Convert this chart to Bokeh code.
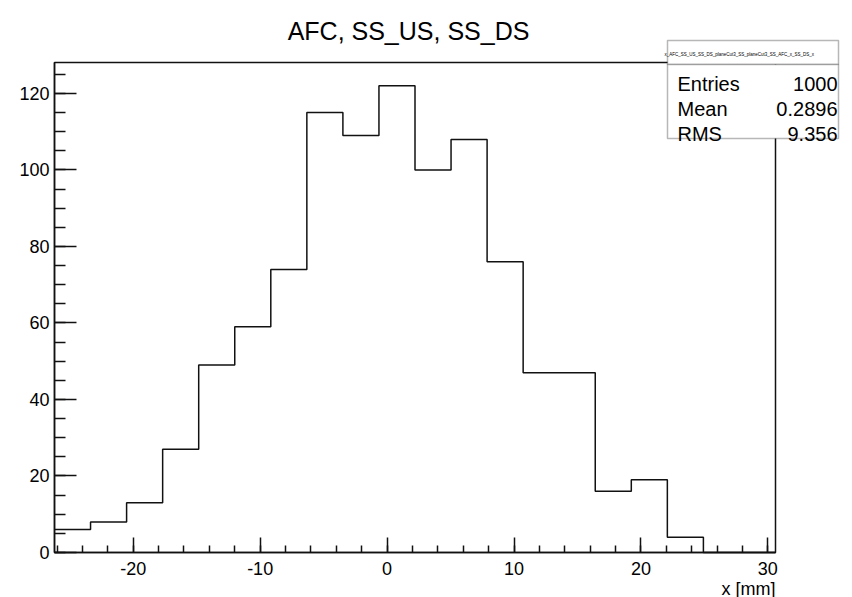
from bokeh.plotting import figure
from bokeh.models import Range1d, SingleIntervalTicker, Label, BoxAnnotation, PrintfTickFormatter
from bokeh.embed import file_html
from bokeh.resources import INLINE

# ---------------- data ----------------
title_text = "AFC, SS_US, SS_DS"
x_label = "x [mm]"
bin_low = -26.2
bin_width = 2.84
counts = [6, 8, 13, 27, 49, 59, 74, 115, 109, 122, 100, 108, 76, 47, 47, 16, 19, 4, 0, 0]
x_major_interval = 10
y_major_interval = 20
stats_header = "x_AFC_SS_US_SS_DS_planeCut3_SS_planeCut3_SS_AFC_x_SS_DS_x"
stats_names = ["Entries", "Mean", "RMS"]
stats_values = ["1000", "0.2896", "9.356"]

# ---------------- layout (pixels) ----------------
W, H = 852, 597
FL, FR, FT, FB = 54, 775, 62, 552     # histogram frame
x_lo = bin_low
x_hi = bin_low + bin_width * len(counts)
y_hi = max(counts) * 1.05
FONT = "Liberation Sans"
LINE = "#111111"

def xd(px):
    return x_lo + (px - FL) * (x_hi - x_lo) / (FR - FL)

def yd(py):
    return (FB - py) * y_hi / (FB - FT)

edges = [bin_low + i * bin_width for i in range(len(counts) + 1)]
ys = counts + [counts[-1]]

# the plotting area covers the whole canvas so that texts outside the
# histogram frame are not clipped; axes are pinned to the frame edges
p = figure(width=W, height=H, output_backend="svg", toolbar_location=None,
           title=None, x_range=Range1d(xd(0), xd(W)), y_range=Range1d(yd(H), yd(0)),
           min_border_left=0, min_border_right=0, min_border_top=0, min_border_bottom=0)
p.xgrid.visible = False
p.ygrid.visible = False
p.outline_line_color = None
p.background_fill_color = "white"
p.border_fill_color = "white"

# frame box
p.quad(left=[x_lo], right=[x_hi], bottom=[0], top=[y_hi], fill_color=None,
       line_color=LINE, line_width=1.5)

# histogram outline
p.step(x=edges, y=ys, mode="after", line_color=LINE, line_width=1.5)

p.xaxis.fixed_location = 0
p.yaxis.fixed_location = x_lo
p.xaxis.bounds = (x_lo, x_hi)
p.yaxis.bounds = (0, y_hi)

for ax, tick_in, interval, nminor, standoff in (
        (p.xaxis[0], 15, x_major_interval, 5, 9),
        (p.yaxis[0], 22, y_major_interval, 4, 5)):
    ax.ticker = SingleIntervalTicker(interval=interval, num_minor_ticks=nminor)
    ax.formatter = PrintfTickFormatter(format="%d")
    ax.major_tick_in = tick_in
    ax.major_tick_out = 0
    ax.minor_tick_in = tick_in // 2
    ax.minor_tick_out = 0
    ax.axis_line_color = LINE
    ax.axis_line_width = 1.5
    ax.major_tick_line_color = LINE
    ax.major_tick_line_width = 1.5
    ax.minor_tick_line_color = LINE
    ax.minor_tick_line_width = 1.5
    ax.major_label_text_font = FONT
    ax.major_label_text_font_size = "18px"
    ax.major_label_text_color = "black"
    ax.major_label_standoff = standoff

# title
p.add_layout(Label(x=xd(408), y=yd(30), text=title_text, text_align="center",
                   text_baseline="alphabetic", text_font=FONT,
                   text_font_size="25px", text_color="black"))
# x axis title
p.add_layout(Label(x=xd(775), y=yd(588), text=x_label, text_align="right",
                   text_baseline="alphabetic", text_font=FONT,
                   text_font_size="18px", text_color="black"))

# statistics box
SB_L, SB_R, SB_T, SB_SEP, SB_B = 667, 838, 40, 64, 138
p.add_layout(BoxAnnotation(left=xd(SB_L), right=xd(SB_R), top=yd(SB_T), bottom=yd(SB_SEP),
                           fill_color="white", fill_alpha=1.0, line_color=LINE,
                           line_width=1.5, level="overlay"))
p.add_layout(BoxAnnotation(left=xd(SB_L), right=xd(SB_R), top=yd(SB_SEP), bottom=yd(SB_B),
                           fill_color="white", fill_alpha=1.0, line_color=LINE,
                           line_width=1.5, level="overlay"))
p.add_layout(Label(x=xd(SB_L - 3), y=yd(54), text=stats_header,
                   text_align="left", text_baseline="alphabetic", text_font=FONT,
                   text_font_size="4.5px", text_color="black", level="overlay"))
row_baselines = [83, 108, 133]
for name, val, yb in zip(stats_names, stats_values, row_baselines):
    p.add_layout(Label(x=xd(SB_L + 10), y=yd(yb), text=name, text_align="left",
                       text_baseline="alphabetic", text_font=FONT,
                       text_font_size="20px", text_color="black", level="overlay"))
    p.add_layout(Label(x=xd(SB_R - 1), y=yd(yb), text=val, text_align="right",
                       text_baseline="alphabetic", text_font=FONT,
                       text_font_size="20px", text_color="black", level="overlay"))

open("out.html", "w").write(file_html(p, INLINE))
